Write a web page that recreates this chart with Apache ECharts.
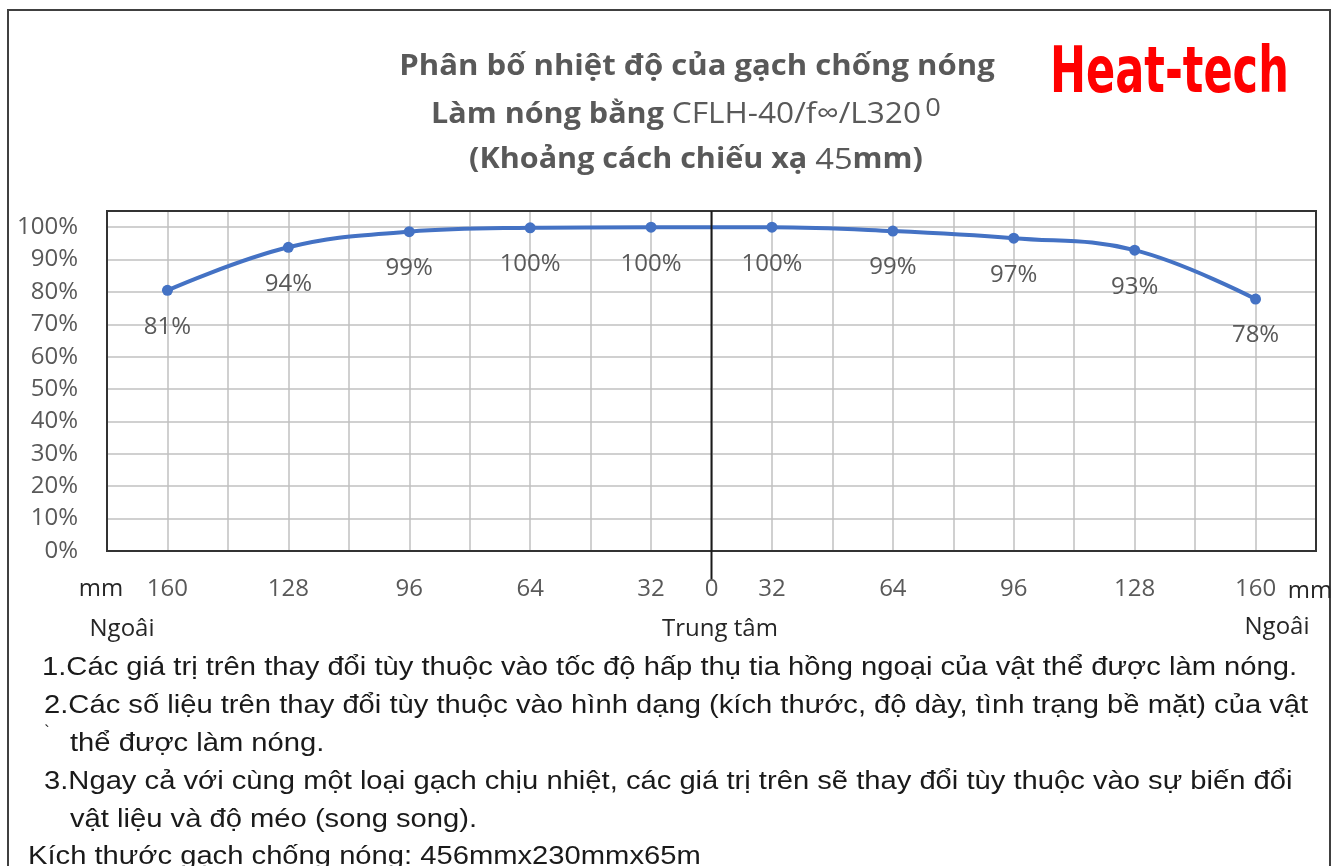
<!DOCTYPE html>
<html>
<head>
<meta charset="utf-8">
<script src="https://cdn.jsdelivr.net/npm/echarts@6/dist/echarts.min.js"></script>
<style>
  html, body { margin: 0; padding: 0; background: #fff; }
  #chart { width: 1340px; height: 866px; }
</style>
</head>
<body>
<div id="chart"></div>
<script>
// khoảng cách từ tâm (mm), trái -> phải
var categories = ['160', '128', '96', '64', '32', '32', '64', '96', '128', '160'];
// phân bố nhiệt độ (%)
var values = [80.5, 93.8, 98.6, 99.8, 100, 100, 98.8, 96.6, 92.9, 77.8];
var yTicks = [0, 10, 20, 30, 40, 50, 60, 70, 80, 90, 100];
var notes = [
  '1.Các giá trị trên thay đổi tùy thuộc vào tốc độ hấp thụ tia hồng ngoại của vật thể được làm nóng.',
  '2.Các số liệu trên thay đổi tùy thuộc vào hình dạng (kích thước, độ dày, tình trạng bề mặt) của vật',
  'thể được làm nóng.',
  '3.Ngay cả với cùng một loại gạch chịu nhiệt, các giá trị trên sẽ thay đổi tùy thuộc vào sự biến đổi',
  'vật liệu và độ méo (song song).',
  'Kích thước gạch chống nóng: 456mmx230mmx65m'
];

var gray = '#595959';
var numFont = '"Open Sans", "Liberation Sans", sans-serif';
var chart = echarts.init(document.getElementById('chart'));

function txt(id, x, y, text, font, fill, align, sx) {
  return {
    id: id, type: 'text', x: x, y: y, scaleX: sx || 1, silent: true,
    style: { text: text, font: font, fill: fill, align: align || 'left', verticalAlign: 'middle' }
  };
}

var graphics = [
  { id: 'frame', type: 'rect', silent: true, z: -1,
    shape: { x: 8, y: 10, width: 1322, height: 880 },
    style: { fill: 'none', stroke: '#404040', lineWidth: 2 } },
  txt('t1', 697, 67, 'Phân bố nhiệt độ của gạch chống nóng', 'bold 28px ' + numFont, gray, 'center', 1.11),
  { id: 't2', type: 'text', x: 686, y: 115, scaleX: 1.09, silent: true,
    style: {
      text: '{b|Làm nóng bằng }{r|CFLH-40/f∞/L320}{s|0}',
      align: 'center', verticalAlign: 'middle',
      rich: {
        b: { font: 'bold 28px ' + numFont, fill: gray, color: gray },
        r: { font: '29px ' + numFont, fill: gray, color: gray },
        s: { font: '25px ' + numFont, fill: gray, color: gray, padding: [0, 0, 12, 4] }
      }
    } },
  { id: 't3', type: 'text', x: 696, y: 160, scaleX: 1.09, silent: true,
    style: {
      text: '{b|(Khoảng cách chiếu xạ }{r|45}{b|mm)}',
      align: 'center', verticalAlign: 'middle',
      rich: {
        b: { font: 'bold 28px ' + numFont, fill: gray, color: gray },
        r: { font: '30px ' + numFont, fill: gray, color: gray }
      }
    } },
  { id: 'brand', type: 'text', x: 1050, y: 75, scaleX: 0.748, silent: true,
    style: { text: 'Heat-tech', font: 'bold 64px "DejaVu Sans Condensed", "DejaVu Sans", sans-serif',
      fill: '#ff0000', align: 'left', verticalAlign: 'middle' } },
  txt('mmL', 101, 589, 'mm', '24px ' + numFont, '#262626', 'center'),
  txt('mmR', 1310, 591, 'mm', '24px ' + numFont, '#262626', 'center'),
  txt('outL', 122, 629, 'Ngoâi', '24px ' + numFont, '#262626', 'center'),
  txt('mid', 720, 629, 'Trung tâm', '24px ' + numFont, '#262626', 'center'),
  txt('outR', 1277, 627, 'Ngoâi', '24px ' + numFont, '#262626', 'center'),
  txt('tick', 47, 733, '`', '16px "Liberation Sans", Arial, sans-serif', '#1a1a1a', 'center')
];
var noteX = [42, 44, 70, 44, 70, 28];
var noteY = [668, 706, 744, 782, 820, 857];
for (var i = 0; i < notes.length; i++) {
  graphics.push(txt('n' + i, noteX[i], noteY[i], notes[i], '25px "Liberation Sans", Arial, sans-serif', '#1a1a1a', 'left', 1.167));
}

var option = {
  animation: false,
  backgroundColor: '#fff',
  grid: {
    left: 107, right: 24, top: 211, bottom: 315,
    show: true, borderColor: '#333', borderWidth: 2, z: 3
  },
  xAxis: [
    {
      type: 'category',
      data: categories,
      boundaryGap: true,
      axisLine: { show: false },
      axisTick: { show: false },
      splitLine: { show: false },
      axisLabel: { color: gray, fontSize: 24, fontFamily: numFont, margin: 26, interval: 0 }
    },
    {
      type: 'value',
      position: 'bottom',
      min: 0, max: 20, interval: 1,
      axisLine: { show: false },
      axisTick: { show: false },
      splitLine: { show: true, lineStyle: { color: '#c0c0c0', width: 1.5 } },
      axisLabel: {
        color: gray, fontSize: 24, fontFamily: numFont, margin: 26,
        formatter: function (v) { return v === 10 ? '0' : ''; }
      }
    }
  ],
  yAxis: {
    type: 'value',
    min: 0, max: 105, interval: 10,
    axisLine: { show: false },
    axisTick: { show: false },
    splitLine: { show: true, lineStyle: { color: '#c0c0c0', width: 1.5 } },
    axisLabel: {
      color: gray, fontSize: 24, fontFamily: numFont, margin: 29,
      formatter: function (v) { return yTicks.indexOf(v) >= 0 ? v + '%' : ''; }
    }
  },
  series: [{
    type: 'line',
    data: values,
    smooth: 0.4,
    symbol: 'circle',
    symbolSize: 11,
    z: 5,
    lineStyle: { color: '#4472c4', width: 4 },
    itemStyle: { color: '#4472c4' },
    label: {
      show: true, position: 'bottom', distance: 19,
      color: gray, fontSize: 24, fontFamily: numFont,
      formatter: function (p) { return Math.round(p.value) + '%'; }
    }
  }],
  graphic: graphics
};
chart.setOption(option);

// trục tâm: đường đứng tại 0 mm, kéo xuống dưới trục
var cx = chart.convertToPixel({ xAxisIndex: 1 }, 10);
var cyTop = chart.convertToPixel({ yAxisIndex: 0 }, 105);
var cyBot = chart.convertToPixel({ yAxisIndex: 0 }, 0) + 28;
chart.setOption({
  graphic: [{
    id: 'center', type: 'line', silent: true, z: 100,
    shape: { x1: cx, y1: cyTop, x2: cx, y2: cyBot },
    style: { stroke: '#1a1a1a', lineWidth: 2 }
  }]
});
</script>
</body>
</html>
